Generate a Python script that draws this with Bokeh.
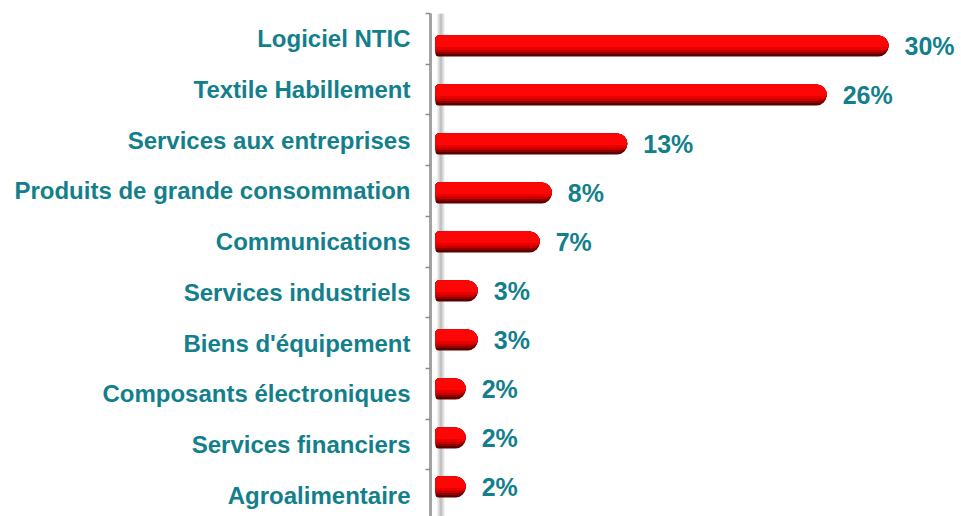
from bokeh.plotting import figure
from bokeh.models import Range1d, FixedTicker, Span, ColumnDataSource
from bokeh.core.properties import value
from bokeh.embed import file_html
from bokeh.resources import INLINE

categories = ["Logiciel NTIC", "Textile Habillement", "Services aux entreprises",
              "Produits de grande consommation", "Communications", "Services industriels",
              "Biens d'équipement", "Composants électroniques", "Services financiers",
              "Agroalimentaire"]
values = [30.0, 25.9, 12.7, 7.7, 6.9, 2.8, 2.8, 2.0, 2.0, 2.0]
labels = ["30%", "26%", "13%", "8%", "7%", "3%", "3%", "2%", "2%", "2%"]

TEAL = "#137f8c"
FONT = "Liberation Sans"

n = len(categories)
pos = [n - 0.5 - i for i in range(n)]

p = figure(width=961, height=516, output_backend="svg", toolbar_location=None,
           x_range=Range1d(-0.33, 34.83), y_range=Range1d(0.08, 10),
           x_axis_location=None, min_border_left=430, min_border_right=0,
           min_border_top=13, min_border_bottom=0)
p.extra_y_ranges = {"bars": Range1d(-0.102, 10.163)}
p.outline_line_color = None
p.xgrid.visible = False
p.ygrid.visible = False
p.background_fill_color = "white"
p.border_fill_color = "white"

ax = p.yaxis[0]
ax.ticker = FixedTicker(ticks=pos, minor_ticks=[float(k) for k in range(n + 1)])
ax.major_label_overrides = {pp: c for pp, c in zip(pos, categories)}
ax.major_tick_line_color = None
ax.major_tick_out = 0
ax.major_tick_in = 0
ax.minor_tick_out = 5
ax.minor_tick_in = 0
ax.minor_tick_line_color = "#8c8c8c"
ax.minor_tick_line_width = 1.5
ax.axis_line_color = "#a3a3a3"
ax.axis_line_width = 3
ax.major_label_standoff = 15
ax.major_label_text_font = FONT
ax.major_label_text_font_style = "bold"
ax.major_label_text_font_size = "24px"
ax.major_label_text_color = TEAL

# floor shadow behind the bars
p.add_layout(Span(location=0.36, dimension="height", line_color="#e4e4e4",
                  line_width=7, level="underlay"))
p.add_layout(Span(location=0.36, dimension="height", line_color="#c2c2c2",
                  line_width=3, level="underlay"))

H = 0.43
layers = [(1.0, "#5c0000", (3, 10, 10, 3)),
          (0.88, "#900000", (3, 10, 8, 2)),
          (0.78, "#c40000", (3, 10, 6, 1)),
          (0.68, "#ea0000", (3, 10, 4, 0)),
          (0.55, "#ff0606", (3, 10, 1, 0))]
for f, col, br in layers:
    hk = H * f
    ys = [y + H / 2 - hk / 2 for y in pos]
    src = ColumnDataSource(dict(y=ys, right=values))
    p.hbar(y="y", right="right", left=0, height=hk, source=src, y_range_name="bars",
           fill_color=col, line_color=None, border_radius=br)

lsrc = ColumnDataSource(dict(x=values, y=pos, t=labels))
p.text(x="x", y="y", text="t", source=lsrc, y_range_name="bars", x_offset=16,
       text_baseline="middle", text_align="left", text_font=value(FONT),
       text_font_style="bold", text_font_size="25px", text_color=TEAL)

open("out.html", "w").write(file_html(p, INLINE))
